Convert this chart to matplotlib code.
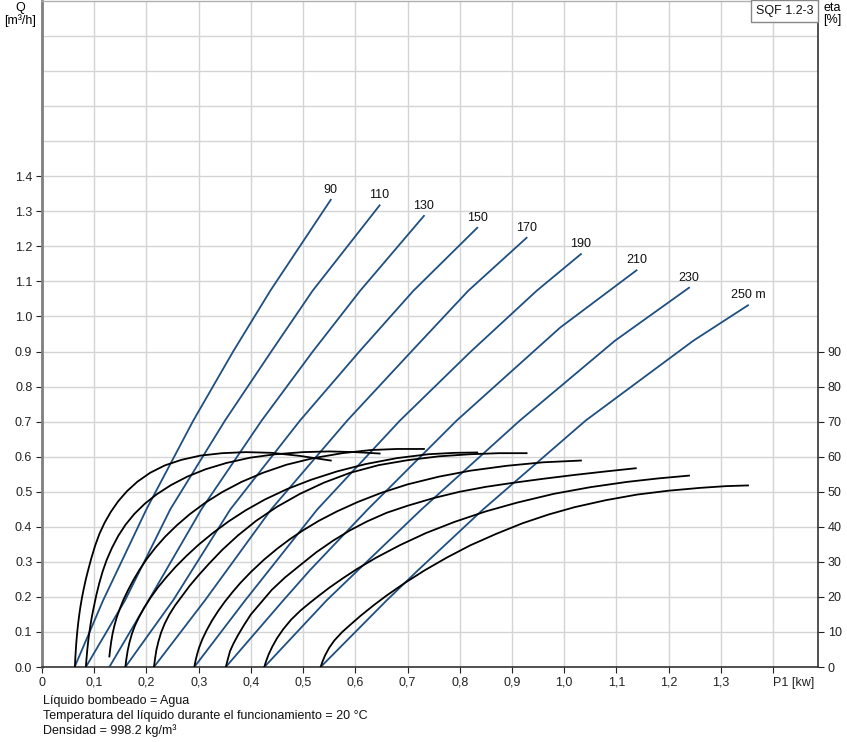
import matplotlib
matplotlib.use("Agg")
import matplotlib.pyplot as plt
import numpy as np

plt.rcParams["font.family"] = ["Liberation Sans", "DejaVu Sans"]
plt.rcParams["font.size"] = 9

# pump curves Q(P1) for each head
HEAD_LABELS = ["90", "110", "130", "150", "170", "190", "210", "230", "250 m"]

QP_POWER = [
    [0.0625, 0.117, 0.200, 0.2897, 0.366, 0.437, 0.553],
    [0.084, 0.159, 0.2457, 0.3504, 0.439, 0.518, 0.6465],
    [0.129, 0.204, 0.3053, 0.4206, 0.5185, 0.609, 0.7314],
    [0.1596, 0.251, 0.3608, 0.494, 0.6077, 0.711, 0.8335],
    [0.2144, 0.312, 0.439, 0.5845, 0.7073, 0.816, 0.928],
    [0.2917, 0.389, 0.5274, 0.6854, 0.8212, 0.947, 1.032],
    [0.352, 0.462, 0.513, 0.624, 0.794, 0.992, 1.1385],
    [0.4257, 0.545, 0.605, 0.727, 0.915, 1.097, 1.239],
    [0.5336, 0.66, 0.72, 0.845, 1.041, 1.247, 1.352],
]
QP_FLOW = [
    [0, 0.19, 0.45, 0.703, 0.9, 1.073, 1.333],
    [0, 0.19, 0.45, 0.703, 0.9, 1.073, 1.317],
    [0, 0.19, 0.45, 0.703, 0.9, 1.073, 1.287],
    [0, 0.19, 0.45, 0.703, 0.9, 1.073, 1.253],
    [0, 0.19, 0.45, 0.703, 0.9, 1.073, 1.2245],
    [0, 0.19, 0.45, 0.703, 0.9, 1.073, 1.178],
    [0, 0.19, 0.276, 0.45, 0.703, 0.968, 1.1317],
    [0, 0.19, 0.276, 0.45, 0.703, 0.9306, 1.082],
    [0, 0.19, 0.276, 0.45, 0.703, 0.9306, 1.032],
]

# efficiency curves eta(P1) [%], same heads
ETA_POWER = [
    [0.063, 0.0638, 0.0648, 0.066, 0.0675, 0.0693, 0.0714, 0.0739, 0.0768, 0.0802, 0.0842,
     0.089, 0.0948, 0.1017, 0.11, 0.12, 0.132, 0.146, 0.163, 0.183, 0.207, 0.235, 0.267,
     0.303, 0.345, 0.39, 0.44, 0.495, 0.553],
    [0.084, 0.0852, 0.0866, 0.0883, 0.0903, 0.0928, 0.0958, 0.0995, 0.104, 0.1095, 0.116,
     0.124, 0.134, 0.146, 0.16, 0.177, 0.197, 0.22, 0.247, 0.278, 0.313, 0.353, 0.398,
     0.447, 0.50, 0.55, 0.60, 0.6465],
    [0.129, 0.1305, 0.1325, 0.135, 0.1385, 0.143, 0.149, 0.156, 0.165, 0.175, 0.187, 0.201,
     0.217, 0.236, 0.258, 0.283, 0.312, 0.345, 0.382, 0.423, 0.468, 0.52, 0.575, 0.63,
     0.68, 0.7314],
    [0.1596, 0.1615, 0.164, 0.1675, 0.172, 0.178, 0.186, 0.196, 0.208, 0.222, 0.238, 0.256,
     0.276, 0.30, 0.327, 0.357, 0.39, 0.427, 0.47, 0.515, 0.565, 0.62, 0.68, 0.74, 0.79,
     0.8335],
    [0.2144, 0.2165, 0.219, 0.223, 0.228, 0.235, 0.244, 0.255, 0.268, 0.283, 0.30, 0.32,
     0.345, 0.375, 0.41, 0.45, 0.494, 0.54, 0.59, 0.645, 0.70, 0.76, 0.82, 0.875, 0.928],
    [0.2917, 0.294, 0.297, 0.301, 0.307, 0.315, 0.325, 0.337, 0.35, 0.365, 0.38, 0.40,
     0.425, 0.45, 0.475, 0.50, 0.53, 0.565, 0.605, 0.65, 0.70, 0.76, 0.82, 0.89, 0.96,
     1.032],
    [0.352, 0.356, 0.36, 0.367, 0.375, 0.387, 0.40, 0.42, 0.44, 0.465, 0.494, 0.525,
     0.557, 0.59, 0.622, 0.66, 0.70, 0.75, 0.80, 0.85, 0.90, 0.96, 1.02, 1.08, 1.137],
    [0.4257, 0.429, 0.434, 0.441, 0.45, 0.462, 0.477, 0.495, 0.512, 0.529, 0.55, 0.575,
     0.6025, 0.64, 0.686, 0.735, 0.79, 0.85, 0.91, 0.98, 1.05, 1.12, 1.18, 1.239],
    [0.5336, 0.537, 0.542, 0.55, 0.56, 0.575, 0.59, 0.61, 0.635, 0.66, 0.695, 0.733, 0.775,
     0.82, 0.87, 0.92, 0.97, 1.02, 1.08, 1.14, 1.20, 1.26, 1.31, 1.352],
]
ETA_VALUE = [
    [0, 2.5, 5, 7.5, 10, 12.5, 15, 17.5, 20, 22.5, 25.2, 28, 31.2, 34.6, 38, 41.2, 44.3,
     47.3, 50.2, 52.9, 55.4, 57.5, 59.1, 60.3, 61, 61.3, 61.1, 60.2, 58.9],
    [0, 2.3, 4.7, 7.1, 9.5, 12, 14.6, 17.3, 20.5, 23.8, 27.2, 30.6, 34, 37.4, 40.6, 43.7,
     46.6, 49.3, 51.9, 54.3, 56.4, 58.2, 59.7, 60.7, 61.3, 61.5, 61.3, 60.9],
    [3, 5, 7.2, 9.4, 11.7, 14.1, 16.6, 19.2, 22, 24.8, 27.8, 30.9, 34, 37.2, 40.4, 43.6,
     46.8, 49.9, 52.8, 55.4, 57.7, 59.6, 61, 61.9, 62.2, 62.2],
    [0, 2.2, 4.6, 7, 9.4, 11.8, 14.3, 17, 19.8, 22.7, 25.6, 28.6, 31.6, 34.9, 38.2, 41.5,
     44.7, 47.8, 50.8, 53.4, 55.8, 57.9, 59.6, 60.7, 61.1, 61.2],
    [0, 2.4, 4.8, 7.3, 9.8, 12.4, 15, 17.6, 20.2, 23.2, 26.2, 29.5, 33.4, 37.5, 41.7, 45.7,
     49.4, 52.6, 55.4, 57.6, 59, 60.1, 60.7, 61, 61],
    [0, 1.8, 3.6, 5.6, 7.9, 10.4, 13.1, 15.9, 18.6, 21.4, 24, 27.1, 30.6, 33.7, 36.5, 39,
     41.7, 44.4, 47.1, 49.7, 52.1, 54.3, 56, 57.4, 58.4, 58.9],
    [0, 2.3, 4.5, 6.8, 9, 12, 15, 18.5, 22, 25.5, 29, 32.7, 36, 39, 41.5, 44, 46, 48.2,
     50, 51.4, 52.5, 53.7, 54.8, 55.8, 56.7],
    [0, 1.6, 3.6, 5.8, 8.2, 10.8, 13.5, 16.1, 18.2, 20.2, 22.6, 25.2, 27.9, 31.2, 34.8,
     38.2, 41.4, 44.4, 46.9, 49.4, 51.3, 52.8, 53.8, 54.6],
    [0, 1.5, 3.3, 5.5, 7.6, 10, 12, 14.6, 17.6, 20.4, 24, 27.6, 31.2, 34.7, 38, 41, 43.5,
     45.6, 47.6, 49.2, 50.3, 51.1, 51.6, 51.8],
]

X_TICKS = np.arange(0, 1.45, 0.1)
Y_TICKS = np.arange(0, 1.45, 0.1)
Y_GRID_EXTRA = np.arange(1.5, 1.85, 0.1)
ETA_TICKS = np.arange(0, 100, 10)

BLUE = "#1f4f80"

fig = plt.figure(figsize=(8.47, 7.42), dpi=100)
ax = fig.add_axes([42 / 847, 75 / 742, 776 / 847, 666 / 742])
ax.set_xlim(0, 1.486)
ax.set_ylim(0, 1.9)

ax.set_xticks(X_TICKS)
xlabels = ["0"] + [f"{v:.1f}".replace(".", ",") for v in X_TICKS[1:-1]] + ["P1 [kw]"]
ax.set_xticklabels(xlabels)
ax.get_xticklabels()[-1].set_ha("left")
ax.set_yticks(Y_TICKS)
ax.set_yticklabels([f"{v:.1f}" for v in Y_TICKS])
ax.set_yticks(Y_GRID_EXTRA, minor=True)
ax.tick_params(axis="y", which="minor", length=0)
ax.tick_params(which="major", direction="out", length=4, width=0.8, pad=3,
               labelsize=9, colors="#222222")
ax.grid(True, which="both", color="#d4d4d4", lw=1.0)
ax.set_axisbelow(True)

for s, c, w in (("left", "#808080", 2.0), ("bottom", "#333333", 1.2),
                ("right", "#333333", 1.2), ("top", "#b0b0b0", 1.0)):
    ax.spines[s].set_color(c)
    ax.spines[s].set_linewidth(w)

ax2 = ax.twinx()
ax2.set_ylim(0, 190)
ax2.set_yticks(ETA_TICKS)
ax2.set_yticklabels([str(v) for v in ETA_TICKS])
ax2.tick_params(direction="out", length=4, width=0.8, pad=3, labelsize=9,
                colors="#222222")
for s in ax2.spines.values():
    s.set_visible(False)

for p, e in zip(ETA_POWER, ETA_VALUE):
    ax2.plot(p, e, color="black", lw=1.3, solid_joinstyle="round")

for p, q, lab in zip(QP_POWER, QP_FLOW, HEAD_LABELS):
    ax.plot(p, q, color=BLUE, lw=1.3, solid_joinstyle="round")
    ax.annotate(lab, (p[-1], q[-1]), xytext=(0, 3), textcoords="offset points",
                ha="center", va="bottom", fontsize=9, color="#111111")

ax.text(0.994, 0.994, "SQF 1.2-3", transform=ax.transAxes, ha="right", va="top",
        fontsize=9, color="#111111",
        bbox=dict(boxstyle="square,pad=0.4", fc="white", ec="#888888", lw=1))

fig.text(20 / 847, 1 - 2 / 742, "Q\n[m³/h]", ha="center", va="top", fontsize=9,
         linespacing=1.0)
fig.text(823 / 847, 1 - 2 / 742, "eta\n[%]", ha="left", va="top", fontsize=9,
         linespacing=1.0)

notes = ["Líquido bombeado = Agua",
         "Temperatura del líquido durante el funcionamiento = 20 °C",
         "Densidad = 998.2 kg/m³"]
for i, line in enumerate(notes):
    fig.text(43 / 847, 1 - (701 + 15 * i) / 742, line, ha="left", va="center",
             fontsize=9, color="#111111")

fig.savefig("out.png", dpi=100)
